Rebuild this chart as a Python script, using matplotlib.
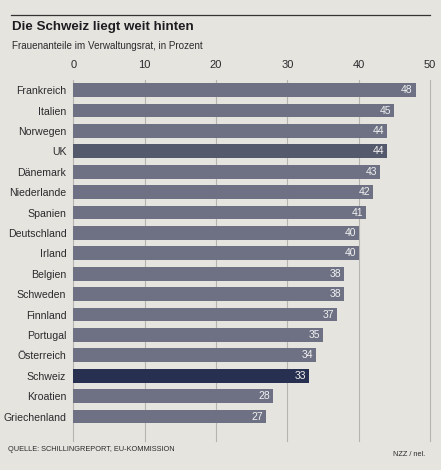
import matplotlib
matplotlib.use("Agg")
import matplotlib.pyplot as plt
from matplotlib.lines import Line2D

countries = ["Frankreich", "Italien", "Norwegen", "UK", "Dänemark", "Niederlande",
             "Spanien", "Deutschland", "Irland", "Belgien", "Schweden", "Finnland",
             "Portugal", "Österreich", "Schweiz", "Kroatien", "Griechenland"]
values = [48, 45, 44, 44, 43, 42, 41, 40, 40, 38, 38, 37, 35, 34, 33, 28, 27]
ticks = [0, 10, 20, 30, 40, 50]

paper = "#e6e4de"
bar_grey = "#6d7183"
uk_grey = "#55596c"
swiss_blue = "#273050"
text_col = "#2a2a2e"

plt.rcParams["font.family"] = ["Liberation Sans Narrow", "Liberation Sans", "DejaVu Sans"]

fig = plt.figure(figsize=(4.41, 4.70), dpi=100, facecolor=paper)
ax = fig.add_axes([0.166, 0.092, 0.809, 0.738], facecolor=paper)

colors = []
for c in countries:
    if c == "Schweiz":
        colors.append(swiss_blue)
    elif c == "UK":
        colors.append(uk_grey)
    else:
        colors.append(bar_grey)

ypos = list(range(len(countries)))
ax.barh(ypos, values, height=0.68, color=colors, zorder=3)

for y, v in zip(ypos, values):
    ax.text(v - 0.4, y, str(v), ha="right", va="center", color="#f2f2f2",
            fontsize=7.5, zorder=4)

ax.set_xlim(0, 50)
ax.set_ylim(len(countries) - 0.5, -0.5)
ax.set_yticks(ypos)
ax.set_yticklabels(countries, fontsize=7.6, color=text_col)
ax.set_xticks(ticks)
ax.set_xticklabels([str(t) for t in ticks], fontsize=8, color=text_col)
ax.xaxis.tick_top()
ax.tick_params(axis="y", length=0, pad=5)
ax.tick_params(axis="x", length=0, pad=7)
for t in ticks:
    ax.axvline(t, color="#b5b4b0", lw=0.8, zorder=1, ymin=-0.04, clip_on=False)
for s in ax.spines.values():
    s.set_visible(False)

# header rule, title and subtitle
fig.add_artist(Line2D([0.025, 0.975], [0.968, 0.968], color="#333333", lw=0.9))
fig.text(0.028, 0.956, "Die Schweiz liegt weit hinten", fontsize=9.6,
         fontweight="bold", color="#1e1e22", va="top")
fig.text(0.028, 0.913, "Frauenanteile im Verwaltungsrat, in Prozent", fontsize=7.1,
         color=text_col, va="top")

# footer
fig.text(0.018, 0.044, "QUELLE: SCHILLINGREPORT, EU-KOMMISSION", fontsize=5.3,
         color=text_col, va="center")
fig.text(0.965, 0.032, "NZZ / nel.", fontsize=5.3, color=text_col, va="center", ha="right")

fig.savefig("out.png", dpi=100, facecolor=paper)
